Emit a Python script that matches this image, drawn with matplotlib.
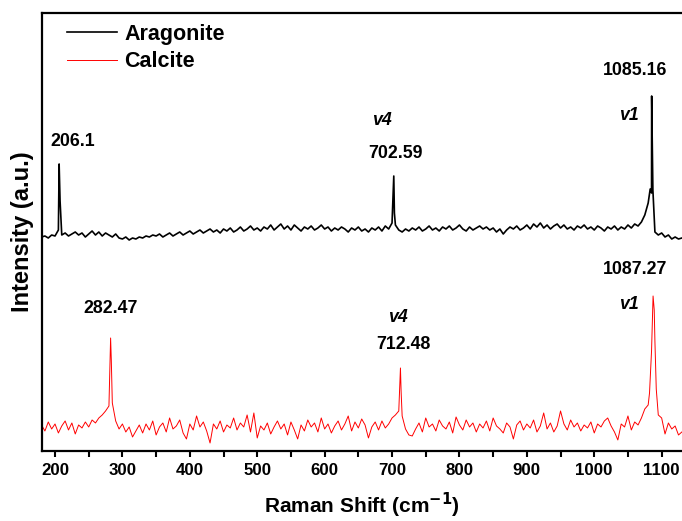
import matplotlib
matplotlib.use('Agg')
import matplotlib.pyplot as plt
import numpy as np
from matplotlib.ticker import MultipleLocator

plt.rcParams.update({
    'font.family': ['Liberation Sans', 'DejaVu Sans'],
    'font.weight': 'bold',
    'mathtext.default': 'bf',
})

# --- Data (arbitrary intensity units) ---
grid_start, grid_stop, grid_step = 180, 1130, 5

aragonite_base = [
    214, 215, 213, 216, 215, 221, 216, 218, 215, 217,
    219, 216, 218, 214, 217, 220, 216, 219, 215, 218,
    216, 214, 217, 213, 212, 214, 211, 213, 212, 214,
    213, 215, 214, 216, 215, 217, 214, 216, 218, 215,
    217, 219, 216, 218, 220, 217, 219, 221, 218, 220,
    222, 219, 221, 218, 222, 220, 223, 219, 221, 224,
    220, 222, 225, 221, 223, 220, 224, 222, 226, 221,
    224, 227, 222, 225, 221, 226, 223, 220, 224, 222,
    225, 221, 223, 226, 222, 224, 220, 223, 221, 224,
    222, 219, 223, 221, 224, 220, 222, 219, 223, 221,
    224, 220, 225, 222, 228, 226, 221, 219, 222, 220,
    223, 221, 224, 220, 222, 225, 221, 223, 220, 224,
    222, 225, 221, 223, 226, 222, 220, 224, 221, 223,
    225, 222, 224, 221, 223, 219, 222, 217, 221, 224,
    222, 225, 221, 223, 226, 222, 227, 224, 228, 223,
    226, 222, 225, 227, 223, 226, 222, 224, 221, 225,
    223, 226, 222, 224, 221, 225, 223, 220, 224, 222,
    225, 221, 224, 222, 226, 223, 227, 225, 229, 236,
    248, 258, 219, 216, 218, 214, 216, 212, 214, 212,
    213,
]
aragonite_peak_x = [206.1, 207.5, 702.59, 703.5, 1083.0, 1085.16, 1087.0]
aragonite_peak_y = [287, 250, 275, 238, 262, 355, 261]

calcite_base = [
    26, 20, 29, 22, 27, 18, 25, 30, 21, 28,
    17, 26, 23, 29, 24, 31, 28, 33, 36, 40,
    45, 48, 30, 22, 27, 19, 24, 14, 20, 26,
    18, 27, 21, 30, 16, 24, 28, 19, 33, 22,
    25, 31, 18, 12, 27, 21, 35, 24, 29, 20,
    8, 27, 22, 30, 19, 26, 23, 33, 21, 28,
    24, 36, 19, 38, 13, 25, 21, 28, 17, 24,
    30, 22, 27, 16, 29, 21, 12, 26, 20, 31,
    24, 28, 19, 33, 22, 27, 18, 25, 30, 21,
    27, 35, 20, 29, 23, 32, 26, 13, 24, 29,
    21, 30, 23, 27, 33, 36, 40, 35, 22, 16,
    15, 22, 28, 19, 33, 24, 27, 20, 31, 25,
    22, 29, 18, 34, 26, 21, 31, 24, 28, 19,
    27, 23, 30, 20, 33, 25, 22, 18, 28, 24,
    12, 26, 30, 21, 27, 23, 31, 19, 25, 38,
    22, 28, 19, 25, 40, 27, 21, 31, 24, 28,
    20, 26, 23, 29, 18, 27, 24, 30, 33, 25,
    19, 11, 27, 24, 35, 21, 29, 26, 33, 42,
    46, 100, 110, 36, 33, 17, 28, 22, 25, 16,
    19,
]
calcite_peak_x = [282.47, 283.5, 712.48, 713.5, 1082.0, 1087.27, 1089.0, 1092.0]
calcite_peak_y = [113, 91, 83, 59, 58, 155, 141, 62]

labels = [
    ('206.1', 226, 310, False), ('v4', 685, 331, True), ('702.59', 705, 298, False),
    ('1085.16', 1060, 381, False), ('v1', 1051, 336, True),
    ('282.47', 282, 142, False), ('v4', 709, 133, True), ('712.48', 717, 106, False),
    ('1087.27', 1060, 181, False), ('v1', 1051, 146, True),
]


def merge(base, px, py):
    x = np.concatenate([np.arange(grid_start, grid_stop + 1, grid_step), px])
    y = np.concatenate([base, py])
    order = np.argsort(x, kind='stable')
    return x[order], y[order]


xa, ya = merge(aragonite_base, aragonite_peak_x, aragonite_peak_y)
xc, yc = merge(calcite_base, calcite_peak_x, calcite_peak_y)

# --- Plot ---
fig = plt.figure(figsize=(6.82, 5.21), dpi=100)
ax = fig.add_axes([0.0616, 0.1344, 0.9392, 0.8406])

ax.plot(xa, ya, color='black', lw=1.2, label='Aragonite')
ax.plot(xc, yc, color='#FF0000', lw=0.7, label='Calcite')

for txt, x, y, ital in labels:
    ax.text(x, y, txt, ha='center', va='center', fontsize=12.8, fontweight='bold',
            style='italic' if ital else 'normal')

ax.set_xlim(180.7, 1131)
ax.set_ylim(0, 438)
ax.xaxis.set_major_locator(MultipleLocator(100))
ax.xaxis.set_minor_locator(MultipleLocator(50))
ax.tick_params(axis='x', which='both', direction='out', length=4, width=1.5,
               labelsize=12.2, pad=5)
ax.tick_params(axis='y', left=False, labelleft=False)
ax.spines['right'].set_visible(False)
for s in ['left', 'top', 'bottom']:
    ax.spines[s].set_linewidth(1.6)

ax.set_xlabel('Raman Shift (cm$^{-1}$)', fontsize=15, fontweight='bold', labelpad=9)
ax.set_ylabel('Intensity (a.u.)', fontsize=17, fontweight='bold', labelpad=6)

ax.legend(loc='upper left', frameon=False, fontsize=15.5, handlelength=2.33,
          handletextpad=0.33, labelspacing=0.3, borderaxespad=0,
          bbox_to_anchor=(0.026, 0.995))

fig.savefig('out.png', dpi=100)
plt.close()
